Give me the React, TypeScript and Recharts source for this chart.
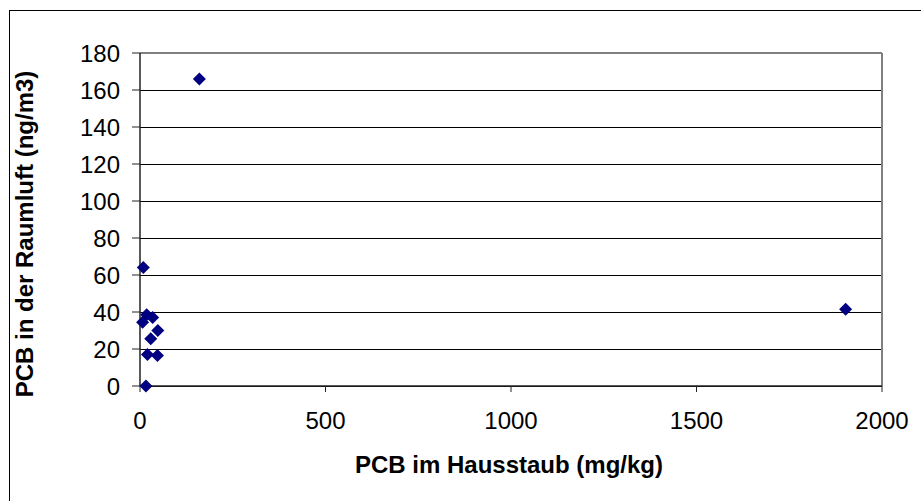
import React from 'react';
import { ScatterChart, Scatter, XAxis, YAxis, CartesianGrid, ReferenceLine, Label } from 'recharts';

const dustValues = [9, 18, 7, 34, 48, 29, 20, 47, 16, 160, 1902];
const airValues = [64, 38.5, 34.5, 37, 30, 25.5, 17, 16.5, 0, 166, 41.5];
const xTicks = [0, 500, 1000, 1500, 2000];
const yTicks = [0, 20, 40, 60, 80, 100, 120, 140, 160, 180];
const xTitle = 'PCB im Hausstaub (mg/kg)';
const yTitle = 'PCB in der Raumluft (ng/m3)';

const data = dustValues.map((x, i) => ({ x, y: airValues[i] }));

const FONT = '"Liberation Sans", Arial, sans-serif';

const Diamond = (props: any) => {
  const { cx, cy } = props;
  const r = 6.5;
  return (
    <polygon
      points={`${cx},${cy - r} ${cx + r},${cy} ${cx},${cy + r} ${cx - r},${cy}`}
      fill="#000080"
    />
  );
};

export default function App() {
  return (
    <div style={{ position: 'absolute', left: 0, top: 0, width: 921, height: 501, overflow: 'hidden', background: '#fff' }}>
      <div
        style={{
          position: 'absolute',
          left: 9,
          top: 10,
          width: 920,
          height: 500,
          borderTop: '1px solid #000',
          borderLeft: '1px solid #000',
        }}
      />
      <div style={{ position: 'absolute', left: 0, top: 0 }}>
        <ScatterChart width={921} height={501} margin={{ top: 53, right: 39, bottom: 55, left: 80 }}>
          <CartesianGrid vertical={false} stroke="#000" strokeWidth={1} shapeRendering="crispEdges" />
          <XAxis
            type="number"
            dataKey="x"
            domain={[0, 2000]}
            ticks={xTicks}
            interval={0}
            height={60}
            tickSize={6}
            tickMargin={20}
            axisLine={{ stroke: '#222', strokeWidth: 1.5 }}
            tickLine={{ stroke: '#222', strokeWidth: 1 }}
            tick={{ fill: '#000', fontSize: 24, fontFamily: FONT }}
          >
            <Label
              content={() => (
                <text x={509} y={473} textAnchor="middle" fontFamily={FONT} fontSize={24} fontWeight="bold" fill="#000">
                  {xTitle}
                </text>
              )}
            />
          </XAxis>
          <YAxis
            type="number"
            dataKey="y"
            domain={[0, 180]}
            ticks={yTicks}
            interval={0}
            width={60}
            tickSize={8}
            tickMargin={12}
            axisLine={{ stroke: '#222', strokeWidth: 1.5 }}
            tickLine={{ stroke: '#222', strokeWidth: 1 }}
            tick={{ fill: '#000', fontSize: 24, fontFamily: FONT }}
          >
            <Label
              content={() => (
                <text
                  x={33}
                  y={234}
                  transform="rotate(-90 33 234)"
                  textAnchor="middle"
                  fontFamily={FONT}
                  fontSize={24}
                  fontWeight="bold"
                  fill="#000"
                >
                  {yTitle}
                </text>
              )}
            />
          </YAxis>
          <ReferenceLine y={180} stroke="#808080" strokeWidth={2} />
          <ReferenceLine x={2000} stroke="#808080" strokeWidth={2} />
          <Scatter data={data} shape={<Diamond />} isAnimationActive={false} />
        </ScatterChart>
      </div>
    </div>
  );
}
